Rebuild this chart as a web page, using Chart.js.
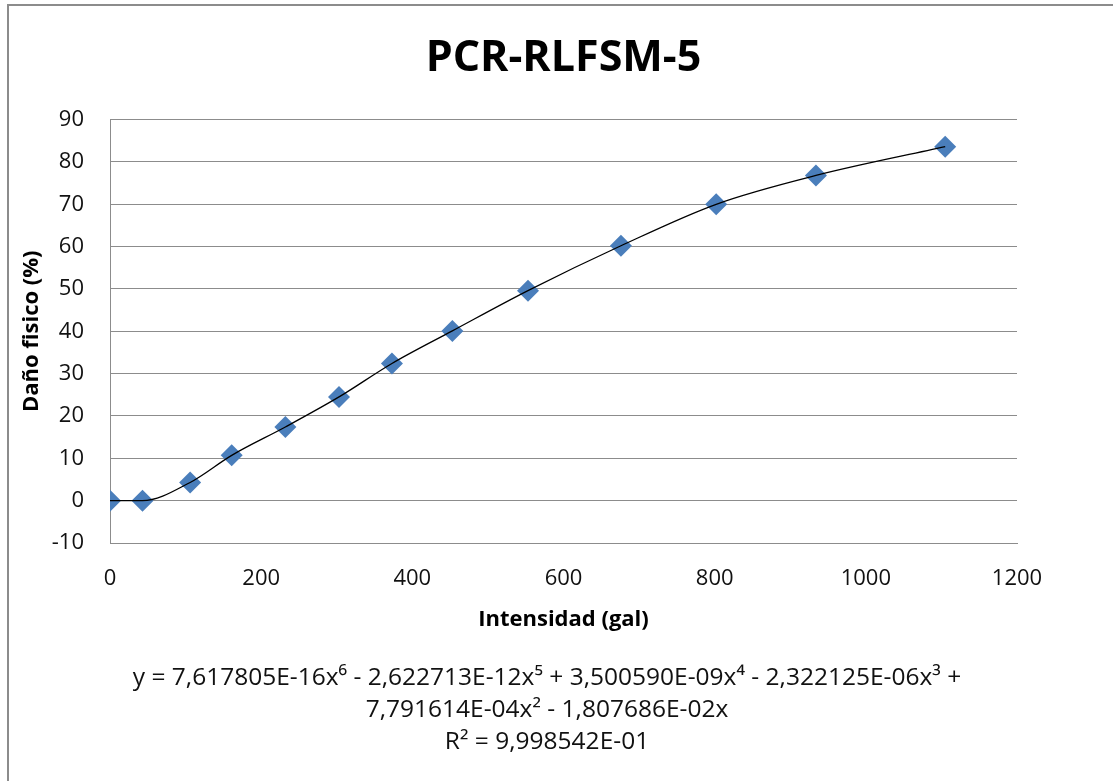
<!DOCTYPE html>
<html lang="es">
<head>
<meta charset="utf-8">
<title>PCR-RLFSM-5</title>
<script src="https://cdn.jsdelivr.net/npm/chart.js@4/dist/chart.umd.min.js"></script>
<style>
  html, body { margin: 0; padding: 0; background: #fff; overflow: hidden; }
  #frame {
    position: absolute; left: 7px; top: 4px; width: 2000px; height: 2000px;
    border-left: 2px solid #8c8c8c; border-top: 2px solid #8c8c8c;
  }
  #wrap { position: absolute; left: 0; top: 0; width: 1113px; height: 781px; }
</style>
</head>
<body>
<div id="frame"></div>
<div id="wrap"><canvas id="damageChart" width="1113" height="781"></canvas></div>
<script>
// Intensidad (gal) vs daño físico (%)
const intensity = [0, 43, 106, 161, 232, 303, 373, 453, 553, 676, 802, 934, 1105];
const damage = [0, 0, 4.3, 10.7, 17.4, 24.5, 32.4, 40.1, 49.6, 60.2, 70.0, 76.8, 83.6];

const xTicks = [0, 200, 400, 600, 800, 1000, 1200];
const yTicks = [-10, 0, 10, 20, 30, 40, 50, 60, 70, 80, 90];

// trendline equation as printed under the axis
const trendLines = [
    "y = 7,617805E-16x\u2076 - 2,622713E-12x\u2075 + 3,500590E-09x\u2074 - 2,322125E-06x\u00b3 +",
    "7,791614E-04x\u00b2 - 1,807686E-02x",
    "R\u00b2 = 9,998542E-01"
];

const FONT = "'Open Sans', 'DejaVu Sans', sans-serif";
const GRID = "#8c8c8c";

const points = intensity.map((x, i) => ({ x: x, y: damage[i] }));

// draws the equation block below the x axis title
const equationText = {
    id: "equationText",
    afterDraw(chart) {
        const ctx = chart.ctx;
        ctx.save();
        ctx.fillStyle = "#111";
        ctx.font = "24.5px " + FONT;
        ctx.textAlign = "center";
        ctx.textBaseline = "middle";
        trendLines.forEach((line, i) => {
            ctx.fillText(line, 547, 678 + i * 32, 830);
        });
        ctx.restore();
    }
};

new Chart(document.getElementById("damageChart"), {
    type: "scatter",
    data: {
        datasets: [
            {
                // polynomial trendline, smoothed through the measured points
                label: "Tendencia",
                data: points,
                showLine: true,
                cubicInterpolationMode: "monotone",
                borderColor: "#000",
                borderWidth: 1.3,
                pointRadius: 0,
                fill: false
            },
            {
                label: "Daño",
                data: points,
                pointStyle: "rectRot",
                pointRadius: 11,
                pointHoverRadius: 11,
                pointBackgroundColor: "#4a7ebb",
                pointBorderWidth: 0,
                showLine: false
            }
        ]
    },
    options: {
        responsive: false,
        animation: false,
        layout: { padding: { left: 8, right: 96, top: 4, bottom: 148 } },
        plugins: {
            legend: { display: false },
            tooltip: { enabled: false },
            title: {
                display: true,
                text: "PCR-RLFSM-5",
                fullSize: false,
                color: "#000",
                font: { family: FONT, size: 43, weight: "bold" },
                padding: { top: 29, bottom: 35 }
            }
        },
        scales: {
            x: {
                type: "linear",
                min: 0,
                max: 1200,
                afterBuildTicks: (scale) => { scale.ticks = xTicks.map(v => ({ value: v })); },
                afterFit: (scale) => { scale.height = 90; },
                grid: { display: false, drawTicks: false },
                border: { display: true, color: GRID, width: 1 },
                ticks: {
                    color: "#111",
                    padding: 23,
                    font: { family: FONT, size: 22 },
                    callback: (v) => String(v)
                },
                title: {
                    display: true,
                    text: "Intensidad (gal)",
                    color: "#000",
                    font: { family: FONT, size: 22, weight: "bold" },
                    padding: { top: 0, bottom: 0 }
                }
            },
            y: {
                type: "linear",
                min: -10,
                max: 90,
                afterBuildTicks: (scale) => { scale.ticks = yTicks.map(v => ({ value: v })); },
                afterFit: (scale) => { scale.width = 102; },
                grid: { color: GRID, lineWidth: 1, drawTicks: false },
                border: { display: true, color: GRID, width: 1 },
                ticks: {
                    color: "#111",
                    padding: 26,
                    font: { family: FONT, size: 22 },
                    callback: (v) => String(v)
                },
                title: {
                    display: true,
                    text: "Daño fisico (%)",
                    color: "#000",
                    font: { family: FONT, size: 22, weight: "bold" },
                    padding: { top: 11, bottom: 0 }
                }
            }
        }
    },
    plugins: [equationText]
});
</script>
</body>
</html>
